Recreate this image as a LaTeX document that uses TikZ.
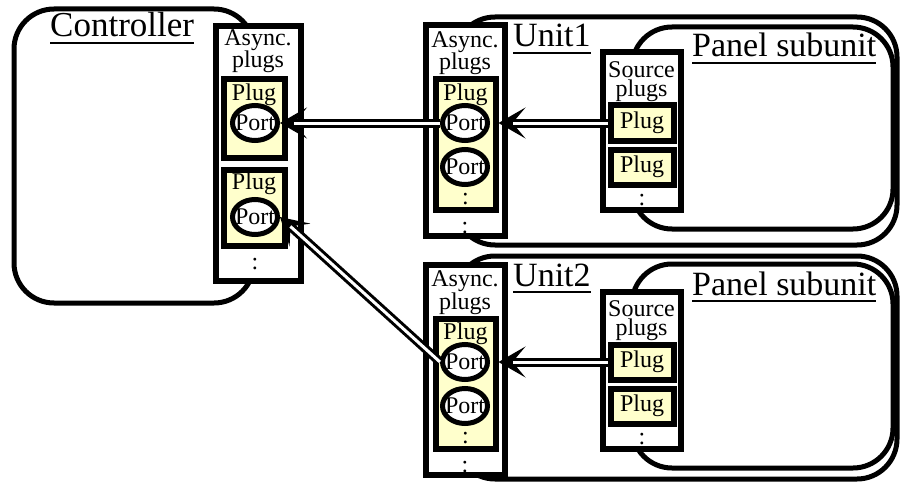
\documentclass[tikz,border=0pt]{standalone}
\usepackage{fontspec}
\setmainfont{Liberation Serif}
\usetikzlibrary{shapes.geometric,arrows.meta}
\definecolor{plugfill}{RGB}{255,255,204}

% underlined heading with a heavy rule
\newsavebox\headbox
\newcommand{\heading}[1]{\sbox\headbox{#1}\rlap{\raisebox{-7pt}{\rule{\wd\headbox}{2pt}}}\usebox\headbox}

\begin{document}
\begin{tikzpicture}[x=1pt,y=-1pt,
  every node/.style={inner sep=0pt},
  grp/.style={draw, line width=5pt, rounded corners=40pt, rectangle},
  plugset/.style={draw, line width=6pt, fill=white, rectangle},
  plugbox/.style={draw, line width=6pt, fill=plugfill, rectangle},
  portnode/.style={draw, line width=5pt, fill=white, ellipse,
    minimum width=45pt, minimum height=35pt, font=\fontsize{24}{19}\selectfont},
  small/.style={font=\fontsize{24}{19}\selectfont, align=center},
  big/.style={font=\fontsize{35}{40}\selectfont, anchor=base west},
  % hollow double shaft ending in a solid barbed head
  link/.style={
    preaction={draw, line width=1.5pt, shorten >=0pt,
      -{Stealth[length=27pt,width=31pt,inset=13pt]}},
    line width=9pt, shorten >=13pt,
    postaction={draw, white, line width=3pt, shorten >=14pt}}]
\useasboundingbox (0,0) rectangle (901,484);

% ---------- Controller ----------
\node[grp, minimum width=240pt, minimum height=294pt] (ctrl) at (134,156) {};
\node[big] (ctrlT) at (50,37) {\heading{Controller}};
\node[plugset, minimum width=85pt, minimum height=254pt] (cAsync) at (258,153.5) {};
\node[small, anchor=base] (cAsyncT) at (258,68) {Async.\\plugs};
\node[plugbox, minimum width=61pt, minimum height=78pt] (cPlug1) at (254,118.5) {};
\node[small, anchor=base] (cPlug1T) at (254,100) {Plug};
\node[portnode] (cp1) at (255,123) {\makebox[0pt]{Port}};
\node[plugbox, minimum width=61pt, minimum height=76pt] (cPlug2) at (254,207.5) {};
\node[small, anchor=base] (cPlug2T) at (254,189) {Plug};
\node[portnode] (cp2) at (255,217) {\makebox[0pt]{Port}};
\node[small, anchor=base] (cDots) at (255,269) {:};

% ---------- Unit 1 ----------
\node[grp, minimum width=442pt, minimum height=228pt] (unitA) at (676,131) {};
\node[grp, minimum width=261pt, minimum height=202pt] (panelA) at (762.5,128) {};
\node[big, font=\fontsize{34}{40}\selectfont] (unitAT) at (513,47) {\heading{Unit1}};
\node[big, font=\fontsize{34}{40}\selectfont] (panelAT) at (692,57) {\heading{Panel subunit}};
\node[plugset, minimum width=79pt, minimum height=210pt] (aAsync) at (465,130.5) {};
\node[small, anchor=base] (aAsyncT) at (465,70) {Async.\\plugs};
\node[plugbox, minimum width=60pt, minimum height=130pt] (aPlug) at (465.5,144.5) {};
\node[small, anchor=base] (aPlugT) at (465.5,100) {Plug};
\node[portnode] (ap1) at (465,123) {\makebox[0pt]{Port}};
\node[portnode] (ap2) at (465,167) {\makebox[0pt]{Port}};
\node[small, anchor=base] (aInDots) at (465.5,204) {:};
\node[small, anchor=base] (aOutDots) at (465,233) {:};
\node[plugset, minimum width=78pt, minimum height=157pt] (aSrc) at (641.5,131) {};
\node[small, anchor=base] (aSrcT) at (641.5,96) {Source\\plugs};
\node[plugbox, minimum width=63pt, minimum height=35pt, font=\fontsize{24}{19}\selectfont] (aS1) at (642,123) {Plug};
\node[plugbox, minimum width=63pt, minimum height=35pt, font=\fontsize{24}{19}\selectfont] (aS2) at (642,167) {Plug};
\node[small, anchor=base] (aSrcDots) at (642,205) {:};

% ---------- Unit 2 ----------
\node[grp, minimum width=442pt, minimum height=223pt] (unitB) at (676,367.5) {};
\node[grp, minimum width=261pt, minimum height=204pt] (panelB) at (762.5,366) {};
\node[big, font=\fontsize{34}{40}\selectfont] (unitBT) at (513,286) {\heading{Unit2}};
\node[big, font=\fontsize{34}{40}\selectfont] (panelBT) at (692,295) {\heading{Panel subunit}};
\node[plugset, minimum width=79pt, minimum height=210pt] (bAsync) at (465,369.5) {};
\node[small, anchor=base] (bAsyncT) at (465,309) {Async.\\plugs};
\node[plugbox, minimum width=60pt, minimum height=130pt] (bPlug) at (465.5,383.5) {};
\node[small, anchor=base] (bPlugT) at (465.5,339) {Plug};
\node[portnode] (bp1) at (465,362) {\makebox[0pt]{Port}};
\node[portnode] (bp2) at (465,406) {\makebox[0pt]{Port}};
\node[small, anchor=base] (bInDots) at (465.5,443) {:};
\node[small, anchor=base] (bOutDots) at (465,472) {:};
\node[plugset, minimum width=78pt, minimum height=157pt] (bSrc) at (641.5,370) {};
\node[small, anchor=base] (bSrcT) at (641.5,335) {Source\\plugs};
\node[plugbox, minimum width=63pt, minimum height=35pt, font=\fontsize{24}{19}\selectfont] (bS1) at (642,362) {Plug};
\node[plugbox, minimum width=63pt, minimum height=35pt, font=\fontsize{24}{19}\selectfont] (bS2) at (642,406) {Plug};
\node[small, anchor=base] (bSrcDots) at (642,444) {:};

% ---------- Connections ----------
\draw[link] (aS1.west) -- (ap1 -| aPlug.east);
\draw[link] (bS1.west) -- (bp1 -| bPlug.east);
\draw[link] (ap1.west) -- (cp1.east);
\draw[link] (bp1.west) -- (cp2.east);
\end{tikzpicture}
\end{document}
